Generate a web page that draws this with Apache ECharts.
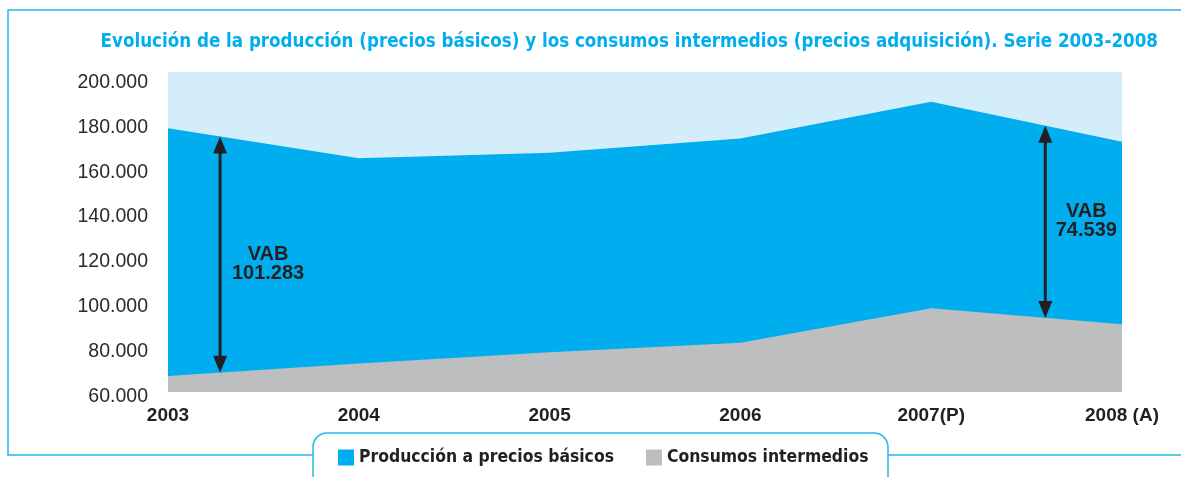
<!DOCTYPE html>
<html>
<head>
<meta charset="utf-8">
<script src="https://cdn.jsdelivr.net/npm/echarts@6/dist/echarts.min.js"></script>
<style>
  html, body { margin: 0; padding: 0; background: #fff; }
  #chart { width: 1181px; height: 477px; }
</style>
</head>
<body>
<div id="chart"></div>
<script>
var years = ["2003", "2004", "2005", "2006", "2007(P)", "2008 (A)"];
var produccion = [177600, 164200, 166700, 173100, 189400, 171600];
var consumos = [67100, 72700, 77700, 82000, 97300, 90200];
// VAB arrows: position along the year axis (0 = 2003) and their labels
var vabPos = [0.273, 4.598];
var vabText = ["VAB\n101.283", "VAB\n74.539"];

var narrow = "'DejaVu Sans Condensed', 'Liberation Sans Narrow', sans-serif";
var plain = "'Liberation Sans', Arial, sans-serif";
var frame = "#29b6e8";
// label nudges (px) for each VAB text
var vabShift = [[2, 6], [-5, -4]];

function at(arr, pos) {
  var i = Math.min(Math.floor(pos), arr.length - 2);
  var f = pos - i;
  return arr[i] + (arr[i + 1] - arr[i]) * f;
}

var arrows = vabPos.map(function (p, k) {
  return [p, at(consumos, p), at(produccion, p), k];
});

function fmt(v) {
  var r = String(v % 1000);
  while (r.length < 3) r = "0" + r;
  return Math.floor(v / 1000) + "." + r;
}

var chart = echarts.init(document.getElementById("chart"));
chart.setOption({
  animation: false,
  title: {
    text: "Evolución de la producción (precios básicos) y los consumos intermedios (precios adquisición). Serie 2003-2008",
    right: 23,
    top: 33,
    padding: 0,
    textStyle: { color: "#00aeef", fontFamily: narrow, fontWeight: "bold", fontSize: 18.6 }
  },
  legend: {
    left: 338,
    top: 449,
    padding: 0,
    itemWidth: 16,
    itemHeight: 16,
    itemGap: 32,
    icon: "rect",
    textStyle: { color: "#231f20", fontFamily: narrow, fontWeight: "bold", fontSize: 17.4 },
    data: ["Producción a precios básicos", "Consumos intermedios"]
  },
  grid: {
    left: 168, right: 59, top: 72, bottom: 85,
    show: true, backgroundColor: "#d3eefa", borderWidth: 0
  },
  xAxis: [{
    type: "category",
    boundaryGap: false,
    data: years,
    axisLine: { show: false },
    axisTick: { show: false },
    axisLabel: { margin: 14, color: "#231f20", fontFamily: plain, fontWeight: "bold", fontSize: 19 }
  }, {
    type: "value", min: 0, max: 5, show: false
  }],
  yAxis: {
    type: "value",
    min: 60000,
    max: 202700,
    interval: 20000,
    splitLine: { show: false },
    axisLine: { show: false },
    axisTick: { show: false },
    axisLabel: {
      margin: 20, color: "#2b2b2b", fontFamily: plain, fontSize: 19.5,
      verticalAlign: "top", lineHeight: 9,
      showMaxLabel: false, formatter: fmt
    }
  },
  series: [{
    name: "Producción a precios básicos",
    type: "line",
    data: produccion,
    symbol: "none",
    color: "#00aeef",
    lineStyle: { width: 0 },
    areaStyle: { color: "#00aeef", opacity: 1 }
  }, {
    name: "Consumos intermedios",
    type: "line",
    data: consumos,
    symbol: "none",
    color: "#bcbec0",
    lineStyle: { width: 0 },
    areaStyle: { color: "#bcbec0", opacity: 1 }
  }, {
    type: "custom",
    xAxisIndex: 1,
    data: arrows,
    z: 10,
    silent: true,
    renderItem: function (params, api) {
      var lo = api.coord([api.value(0), api.value(1)]);
      var hi = api.coord([api.value(0), api.value(2)]);
      var x = lo[0], hw = 7, hh = 17;
      var s = vabShift[api.value(3)];
      return {
        type: "group",
        children: [{
          type: "line",
          shape: { x1: x, y1: lo[1] - hh + 2, x2: x, y2: hi[1] + hh - 2 },
          style: { stroke: "#231f20", lineWidth: 3 }
        }, {
          type: "polygon",
          shape: { points: [[x, hi[1]], [x - hw, hi[1] + hh], [x + hw, hi[1] + hh]] },
          style: { fill: "#231f20" }
        }, {
          type: "polygon",
          shape: { points: [[x, lo[1]], [x - hw, lo[1] - hh], [x + hw, lo[1] - hh]] },
          style: { fill: "#231f20" }
        }, {
          type: "text",
          style: {
            text: vabText[api.value(3)],
            x: x + 46 + s[0],
            y: (lo[1] + hi[1]) / 2 + 3 + s[1],
            align: "center",
            verticalAlign: "middle",
            fill: "#231f20",
            font: "bold 20px " + plain,
            lineHeight: 19
          }
        }]
      };
    }
  }],
  graphic: [{
    type: "polyline",
    shape: { points: [[1181, 10], [8, 10], [8, 455], [313, 455]] },
    style: { stroke: frame, lineWidth: 1.5, fill: null }
  }, {
    type: "line",
    shape: { x1: 888, y1: 455, x2: 1181, y2: 455 },
    style: { stroke: frame, lineWidth: 1.5 }
  }, {
    type: "rect",
    z: -1,
    shape: { x: 313, y: 433, width: 575, height: 80, r: 14 },
    style: { stroke: frame, lineWidth: 1.5, fill: "#fff" }
  }]
});
</script>
</body>
</html>
